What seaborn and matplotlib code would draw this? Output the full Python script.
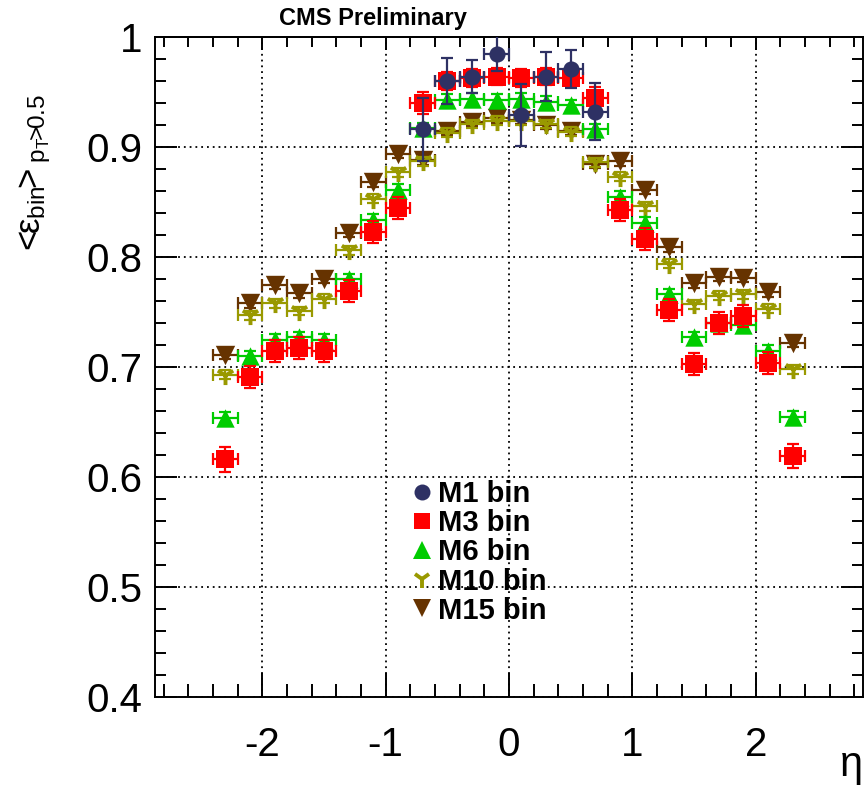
import numpy as np
import pandas as pd
import matplotlib
matplotlib.use("Agg")
import matplotlib.pyplot as plt
import seaborn as sns
from matplotlib.lines import Line2D
from matplotlib.ticker import MultipleLocator

# ---------------- data ----------------
eta = [-2.3, -2.1, -1.9, -1.7, -1.5, -1.3, -1.1, -0.9, -0.7, -0.5, -0.3, -0.1,
       0.1, 0.3, 0.5, 0.7, 0.9, 1.1, 1.3, 1.5, 1.7, 1.9, 2.1, 2.3]

eta_m1 = [-0.7, -0.5, -0.3, -0.1, 0.1, 0.3, 0.5, 0.7]
eff_m1 = [0.916, 0.960, 0.964, 0.985, 0.929, 0.964, 0.971, 0.932]
err_m1 = [0.029, 0.021, 0.015, 0.016, 0.028, 0.022, 0.017, 0.026]

eff_m3 = [0.616, 0.691, 0.715, 0.717, 0.715, 0.769, 0.823, 0.845, 0.940, 0.960, 0.963, 0.964,
          0.963, 0.964, 0.963, 0.945, 0.843, 0.816, 0.752, 0.703, 0.740, 0.746, 0.704, 0.619]
err_m3 = [0.011, 0.010, 0.010, 0.010, 0.010, 0.010, 0.010, 0.010, 0.010, 0.008, 0.008, 0.008,
          0.008, 0.008, 0.008, 0.010, 0.010, 0.010, 0.010, 0.010, 0.010, 0.010, 0.010, 0.011]

eff_m6 = [0.654, 0.710, 0.725, 0.727, 0.725, 0.780, 0.834, 0.861, 0.917, 0.943, 0.944, 0.943,
          0.944, 0.941, 0.938, 0.916, 0.855, 0.831, 0.766, 0.727, 0.740, 0.738, 0.715, 0.655]
err_m6 = [0.005] * 24

eff_m10 = [0.693, 0.747, 0.758, 0.751, 0.762, 0.806, 0.853, 0.877, 0.887, 0.913, 0.921, 0.924,
           0.924, 0.921, 0.914, 0.886, 0.873, 0.846, 0.794, 0.757, 0.765, 0.766, 0.753, 0.698]
err_m10 = [0.004] * 24

eff_m15 = [0.711, 0.758, 0.775, 0.767, 0.780, 0.822, 0.868, 0.894, 0.888, 0.915, 0.923, 0.926,
           0.925, 0.920, 0.915, 0.885, 0.887, 0.861, 0.809, 0.776, 0.782, 0.781, 0.768, 0.722]
err_m15 = [0.004] * 24

bin_half_width = 0.1

series_names = ["M1 bin", "M3 bin", "M6 bin", "M10 bin", "M15 bin"]
x_ticks = [-2, -1, 0, 1, 2]
x_ticklabels = ["-2", "-1", "0", "1", "2"]
y_ticks = [0.4, 0.5, 0.6, 0.7, 0.8, 0.9, 1.0]
y_ticklabels = ["0.4", "0.5", "0.6", "0.7", "0.8", "0.9", "1"]

# ---------------- style ----------------
sns.set_theme(style="white")
plt.rcParams["font.family"] = ["Liberation Sans", "DejaVu Sans"]
plt.rcParams["axes.unicode_minus"] = False
plt.rcParams["mathtext.fontset"] = "custom"
plt.rcParams["mathtext.rm"] = "Liberation Sans"
plt.rcParams["mathtext.it"] = "Liberation Sans"
plt.rcParams["mathtext.bf"] = "Liberation Sans:bold"
plt.rcParams["text.color"] = "black"
plt.rcParams["xtick.color"] = "black"
plt.rcParams["ytick.color"] = "black"
plt.rcParams["axes.labelcolor"] = "black"

W, H = 865, 787
fig = plt.figure(figsize=(W / 100, H / 100), dpi=100)
L, R, T, B = 155, 863, 37, 697
ax = fig.add_axes([L / W, 1 - B / H, (R - L) / W, (B - T) / H])

frames = []
frames.append(pd.DataFrame({"eta": eta_m1, "eff": eff_m1, "err": err_m1, "series": "M1 bin"}))
frames.append(pd.DataFrame({"eta": eta, "eff": eff_m3, "err": err_m3, "series": "M3 bin"}))
frames.append(pd.DataFrame({"eta": eta, "eff": eff_m6, "err": err_m6, "series": "M6 bin"}))
frames.append(pd.DataFrame({"eta": eta, "eff": eff_m10, "err": err_m10, "series": "M10 bin"}))
frames.append(pd.DataFrame({"eta": eta, "eff": eff_m15, "err": err_m15, "series": "M15 bin"}))
df = pd.concat(frames, ignore_index=True)

styles = {
    "M1 bin": dict(color="#2e3164", marker="o", s=135, lw=0, ms=11.5),
    "M3 bin": dict(color="#ff0000", marker="s", s=165, lw=0, ms=12),
    "M6 bin": dict(color="#00cc00", marker="^", s=175, lw=0, ms=12.5),
    "M10 bin": dict(color="#999900", marker="1", s=190, lw=2.8, ms=13),
    "M15 bin": dict(color="#663300", marker="v", s=195, lw=0, ms=13),
}
draw_order = ["M15 bin", "M10 bin", "M6 bin", "M3 bin", "M1 bin"]

for z, name in enumerate(draw_order):
    st = styles[name]
    sub = df[df["series"] == name]
    ax.errorbar(sub["eta"], sub["eff"], xerr=bin_half_width, yerr=sub["err"],
                fmt="none", ecolor=st["color"], elinewidth=1.6, capsize=4.5,
                capthick=1.6, zorder=2 + 2 * z)
    sns.scatterplot(data=sub, x="eta", y="eff", marker=st["marker"], color=st["color"],
                    s=st["s"], linewidth=st["lw"], edgecolor=st["color"] if st["lw"] == 0 else None,
                    ax=ax, legend=False, zorder=3 + 2 * z)

ax.set_xlim(-2.87, 2.87)
ax.set_ylim(0.4, 1.0)
ax.set_xticks(x_ticks)
ax.set_xticklabels(x_ticklabels)
ax.set_yticks(y_ticks)
ax.set_yticklabels(y_ticklabels)
ax.xaxis.set_minor_locator(MultipleLocator(0.2))
ax.yaxis.set_minor_locator(MultipleLocator(0.02))
ax.set_xlabel("")
ax.set_ylabel("")

ax.grid(True, which="major", color="black", linestyle=(0, (1, 2.2)), linewidth=1.3)
for sp in ax.spines.values():
    sp.set_color("black")
    sp.set_linewidth(1.4)

ax.tick_params(axis="both", which="both", direction="in", colors="black", width=1.4,
               labelsize=29)
ax.tick_params(axis="x", which="major", length=17, pad=21, bottom=True, top=False)
ax.tick_params(axis="x", which="minor", length=9.5, bottom=True, top=False)
ax.tick_params(axis="y", which="major", length=16, pad=9, left=True, right=True)
ax.tick_params(axis="y", which="minor", length=8, left=True, right=True)

secx = ax.secondary_xaxis("top")
secx.set_xticks(x_ticks)
secx.xaxis.set_minor_locator(MultipleLocator(0.2))
secx.tick_params(axis="x", which="major", direction="in", length=9, width=1.4, labeltop=False)
secx.tick_params(axis="x", which="minor", direction="in", length=7, width=1.4)
secx.spines["top"].set_linewidth(1.4)

# legend
handles = [Line2D([], [], linestyle="none", marker=styles[n]["marker"], color=styles[n]["color"],
                  markersize=styles[n]["ms"],
                  markeredgewidth=styles[n]["lw"] if styles[n]["lw"] else 0)
           for n in series_names]
leg = ax.legend(handles, series_names, loc="upper left",
                bbox_to_anchor=(410 / W, 1 - 480 / H), bbox_transform=fig.transFigure,
                frameon=False, prop=dict(weight="bold", size=21), handlelength=0.8,
                handletextpad=0.15, labelspacing=0.04, borderpad=0, borderaxespad=0)
for t in leg.get_texts():
    t.set_color("black")
leg.set_zorder(20)

fig.text(373 / W, 1 - 19 / H, "CMS Preliminary", ha="center", va="center",
         fontsize=17, fontweight="bold", color="black")
fig.text(35 / W, 1 - 94 / H,
         r"$<\!\!\varepsilon_{\mathrm{bin}}\!\!>_{\mathrm{p_{T}}\!\!>\!\!0.5}$",
         rotation=90, ha="center", va="top", fontsize=25, color="black")
fig.text(851 / W, 1 - 765 / H, "η", ha="center", va="center", fontsize=30, color="black")

fig.savefig("out.png", dpi=100)
